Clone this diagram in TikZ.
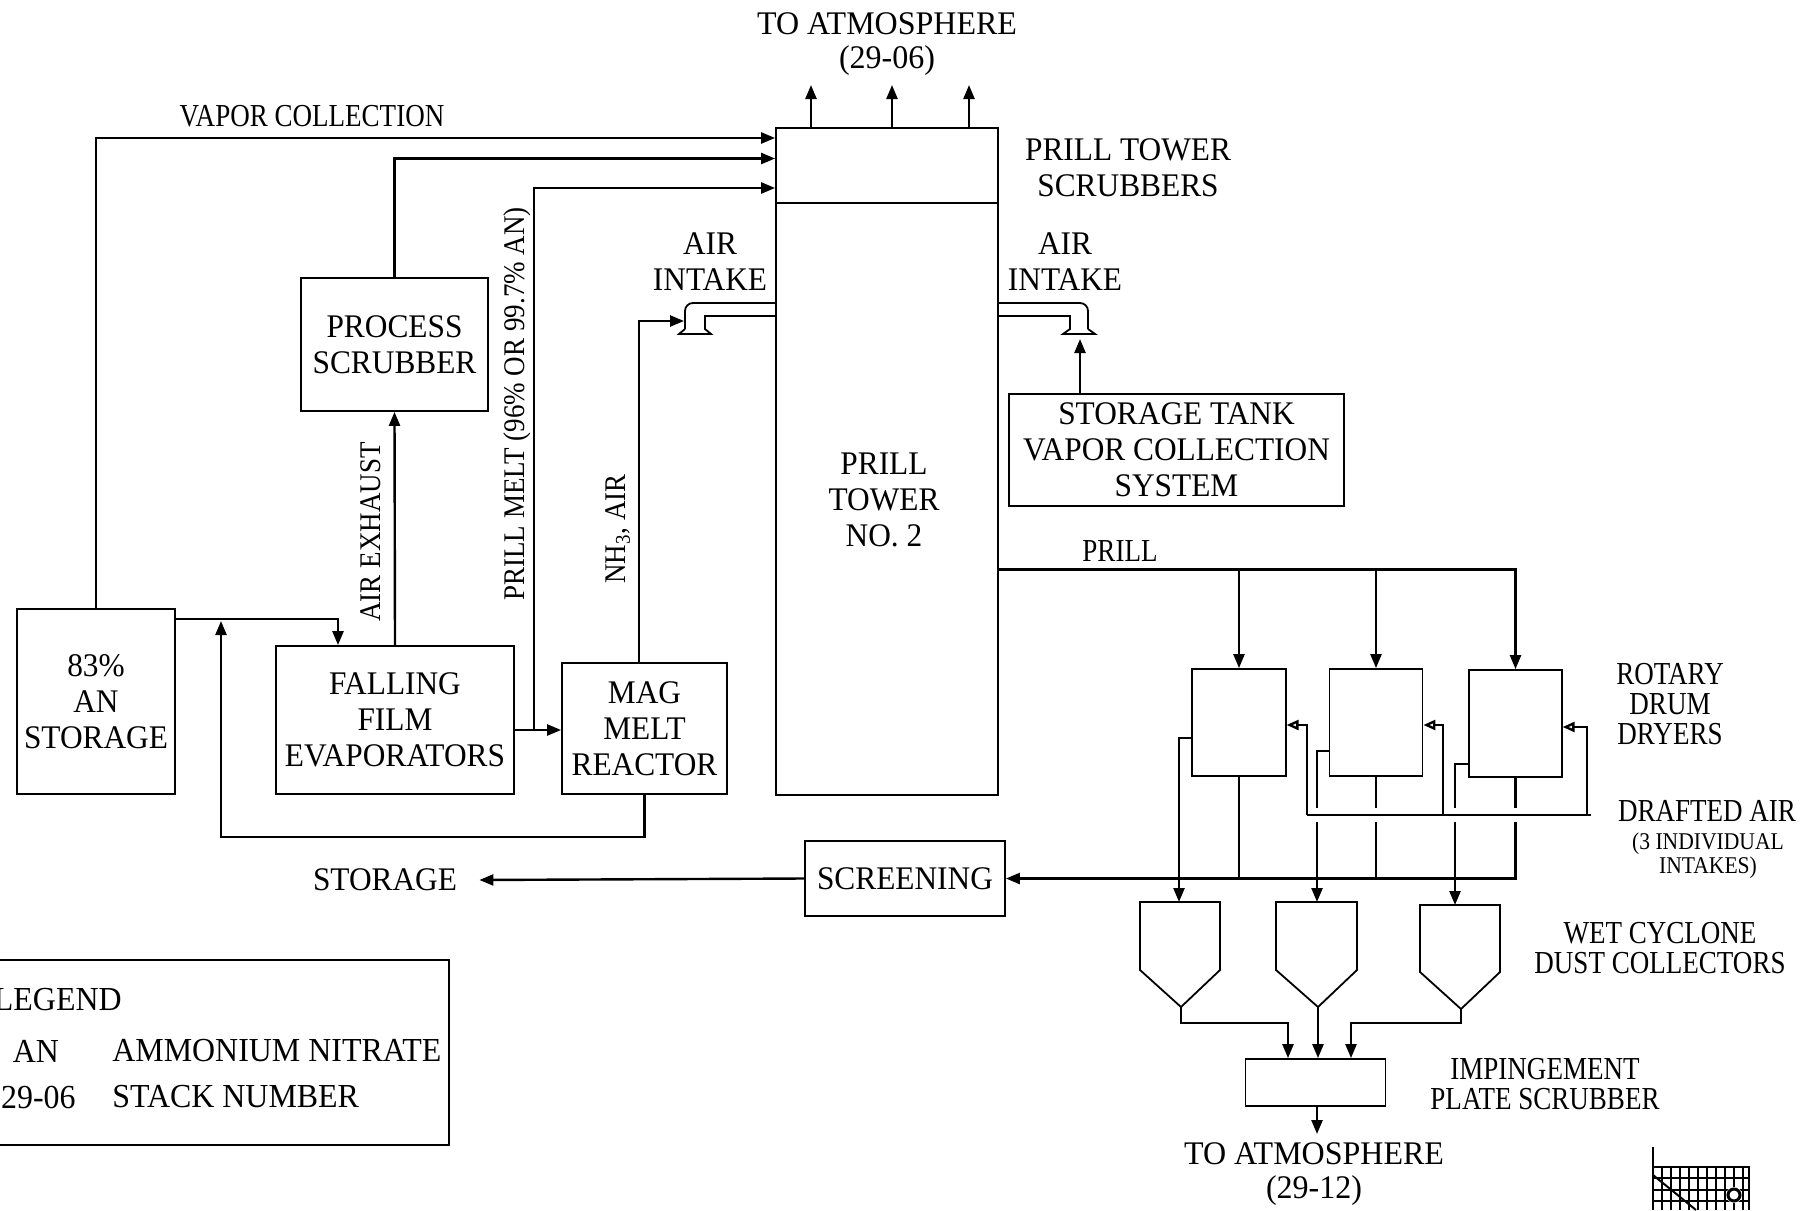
\documentclass[tikz,border=0pt]{standalone}
\usepackage{fontspec}
\setmainfont{Liberation Serif}
\newfontfamily\fA{Liberation Serif}[FakeStretch=0.95]
\newfontfamily\fB{Liberation Serif}[FakeStretch=0.845]
\newfontfamily\fC{Liberation Serif}[FakeStretch=0.9]
\newfontfamily\fD{Liberation Serif}[FakeStretch=0.97]
\usetikzlibrary{arrows.meta}
\begin{document}
\begin{tikzpicture}[x=0.5pt,y=-0.5pt,
  box/.style={draw, line width=0.9pt, inner sep=0pt, align=center, font=\fA\fontsize{16.5}{18}\selectfont},
  lab/.style={inner sep=0pt, align=center, font=\fA\fontsize{16.5}{18}\selectfont},
  clab/.style={inner sep=0pt, align=center, font=\fB\fontsize{16}{15}\selectfont},
  slab/.style={inner sep=0pt, align=center, font=\fC\fontsize{12}{12}\selectfont},
  rlab/.style={inner sep=0pt, rotate=90, font=\fC\fontsize{15}{15}\selectfont},
  atm/.style={inner sep=0pt, align=center, font=\fD\fontsize{16.5}{17.4}\selectfont},
  lg/.style={inner sep=0pt, font=\fA\fontsize{16.8}{16.8}\selectfont},
  ln/.style={line width=1.2pt},
  arr/.style={ln, -{Triangle[length=7pt,width=5.5pt]}},
  oarr/.style={ln, -{Triangle[open,length=6pt,width=5pt]}},
  duct/.style={line width=0.9pt}]
\useasboundingbox (0,0) rectangle (1815,1210);

% ---------------- boxes ----------------
\node[box, minimum width=79pt, minimum height=92.5pt] (an) at (96,701.5) {83\%\\AN\\STORAGE};
\node[box, minimum width=93.5pt, minimum height=66.5pt] (scrub) at (394.5,344.5) {PROCESS\\SCRUBBER};
\node[box, minimum width=119pt, minimum height=74pt] (evap) at (395,720) {FALLING\\FILM\\EVAPORATORS};
\node[box, minimum width=82.5pt, minimum height=65.5pt] (mag) at (644.5,728.5) {MAG\\MELT\\REACTOR};
\node[box, minimum width=111pt, minimum height=333.5pt] (tower) at (887,461.5) {};
\node[lab] (towertxt) at (884,500) {PRILL\\TOWER\\NO. 2};
\draw[line width=0.9pt] (tower.west |- 0,203) -- (tower.east |- 0,203);
\node[box, minimum width=167.5pt, minimum height=56pt] (stank) at (1176.5,450) {STORAGE TANK\\VAPOR COLLECTION\\SYSTEM};
\node[box, minimum width=46.7pt, minimum height=53.5pt] (d1) at (1239,722.5) {};
\node[box, minimum width=46.5pt, minimum height=53.5pt] (d2) at (1376,722.5) {};
\node[box, minimum width=46.2pt, minimum height=53.5pt] (d3) at (1515.5,723.5) {};
\node[box, minimum width=100pt, minimum height=37.5pt] (screen) at (905,878.5) {SCREENING};
\node[box, minimum width=70pt, minimum height=23.5pt] (imp) at (1315.5,1082.5) {};
\node[draw, line width=0.9pt, minimum width=229.5pt, minimum height=92.5pt, inner sep=0pt] (legend) at (219.5,1052.5) {};

% cyclones
\draw[line width=0.9pt] (1140,970) -- (1140,902) -- (1220,902) -- (1220,970) -- (1181,1007) -- cycle;
\draw[line width=0.9pt] (1276,970) -- (1276,902) -- (1357,902) -- (1357,970) -- (1318,1007) -- cycle;
\draw[line width=0.9pt] (1420,972) -- (1420,905) -- (1500,905) -- (1500,972) -- (1461,1009) -- cycle;
\coordinate (c1top) at (1179,902);
\coordinate (c2top) at (1317,902);
\coordinate (c3top) at (1455,905);
\coordinate (c1apex) at (1181,1007);
\coordinate (c2apex) at (1318,1007);
\coordinate (c3apex) at (1461,1009);

% air intake ducts
\draw[duct, rounded corners=4pt] (776,303) -- (685,303) -- (685,329);
\draw[duct] (685,329) -- (679,334) -- (711,334) -- (705,329) -- (705,316) -- (776,316);
\draw[duct, rounded corners=4pt] (998,303) -- (1088,303) -- (1088,329);
\draw[duct] (1088,329) -- (1095,334) -- (1063,334) -- (1070,329) -- (1070,316) -- (998,316);
\coordinate (lduct) at (684,321);
\coordinate (rduct) at (1080,339);

% ---------------- connectors ----------------
\draw[arr] (an.north) |- (tower.west |- 0,138);
\draw[arr] (scrub.north) |- (tower.west |- 0,158.5);
\coordinate (pm) at (534,730);
\draw[arr] (evap.east |- pm) -- (mag.west |- pm);
\draw[arr] (pm) |- (tower.west |- 0,188);
\draw[arr] (an.east |- 0,619) -| (evap.north -| 338,0);
\draw[arr] (mag.south) |- (221,837) -- (221,621);
\draw[arr] (evap.north) -- (scrub.south);
\draw[arr] (mag.north -| 639,0) |- (lduct);
\draw[arr] (stank.north -| rduct) -- (rduct);
\foreach \x in {811,892,969} \draw[arr] (tower.north -| \x,0) -- (\x,85);

% prill distribution
\draw[arr] (tower.east |- 0,569.5) -| (d3.north);
\draw[arr] (d1.north |- 0,569.5) -- (d1.north);
\draw[arr] (d2.north |- 0,569.5) -- (d2.north);

% dryer exhausts to cyclones
\draw[arr] (d1.west |- 0,738) -| (c1top);
\draw[arr] (d2.west |- 0,751) -| (c2top);
\draw[arr] (d3.west |- 0,764) -| (c3top);

% dryer products to screening
\draw[ln] (d1.south) -- (d1.south |- screen.east);
\draw[ln] (d2.south) -- (d2.south |- screen.east);
\draw[arr] (d3.south) |- (screen.east);

% drafted air (with line hops)
\coordinate (da) at (1591,815);
\draw[white, line width=7pt] (1312,815) -- (1582,815);
\draw[ln] (1307,815) -- (da);
\draw[oarr] (1307,815) |- (d1.east |- 0,725);
\draw[oarr] (1443,815) |- (d2.east |- 0,725);
\draw[oarr] (1587,815) |- (d3.east |- 0,727);

% cyclones to impingement scrubber
\draw[arr] (c1apex) |- (1288,1023) -- (imp.north -| 1288,0);
\draw[arr] (c2apex) -- (imp.north -| c2apex);
\draw[arr] (c3apex) |- (1351,1023) -- (imp.north -| 1351,0);
\draw[arr] (imp.south -| 1317,0) -- (1317,1134);

% screening to storage
\node[lab] (stor) at (385,880) {STORAGE};
\draw[arr] (screen.west) -- ([xshift=11pt]stor.east);

% ---------------- labels ----------------
\node[atm] (atm1) at (887,44) {TO ATMOSPHERE\\(29-06)};
\node[lab] (ptsc) at (1128,168) {PRILL TOWER\\SCRUBBERS};
\node[clab] (vcl) at (312,116) {VAPOR COLLECTION};
\node[lab] (ail) at (710,262) {AIR\\INTAKE};
\node[lab] (air) at (1065,262) {AIR\\INTAKE};
\node[rlab] (pmlab) at (517,404) {PRILL MELT (96\% OR 99.7\% AN)};
\node[rlab] (aelab) at (371,532) {AIR EXHAUST};
\node[rlab] (nhlab) at (618,529) {NH\textsubscript{3}, AIR};
\node[clab] (prlab) at (1120,551) {PRILL};
\node[clab] (rdd) at (1670,704) {ROTARY\\DRUM\\DRYERS};
\node[clab] (dal) at (1707,811) {DRAFTED AIR};
\node[slab] (ind) at (1708,856) {(3 INDIVIDUAL\\INTAKES)};
\node[clab] (wcd) at (1660,948) {WET CYCLONE\\DUST COLLECTORS};
\node[clab] (ips) at (1545,1084) {IMPINGEMENT\\PLATE SCRUBBER};
\node[atm] (atm2) at (1314,1174) {TO ATMOSPHERE\\(29-12)};

% legend
\node[lg, anchor=east] (lgt) at (122,1000) {LEGEND};
\node[lg] (lgan) at (36,1051) {AN};
\node[lg, anchor=east] (lgsn) at (76,1097) {29-06};
\node[lg, anchor=west] (lgant) at (112,1051) {AMMONIUM NITRATE};
\node[lg, anchor=west] (lgsnt) at (112,1097) {STACK NUMBER};

% logo fragment (bottom right)
\draw[line width=1pt] (1653,1147) -- (1653,1210);
\draw[line width=0.8pt] (1653,1167) -- (1749,1167) -- (1749,1210);
\foreach \x in {1662,1671,...,1745} \draw[line width=0.6pt] (\x,1167) -- (\x,1210);
\foreach \y in {1178,1190,1201} \draw[line width=0.6pt] (1653,\y) -- (1749,\y);
\draw[line width=1pt] (1653,1175) -- (1696,1210);
\fill[white] (1734,1195) circle[radius=4pt];
\draw[line width=1.5pt] (1734,1195) circle[radius=3pt];
\end{tikzpicture}
\end{document}
